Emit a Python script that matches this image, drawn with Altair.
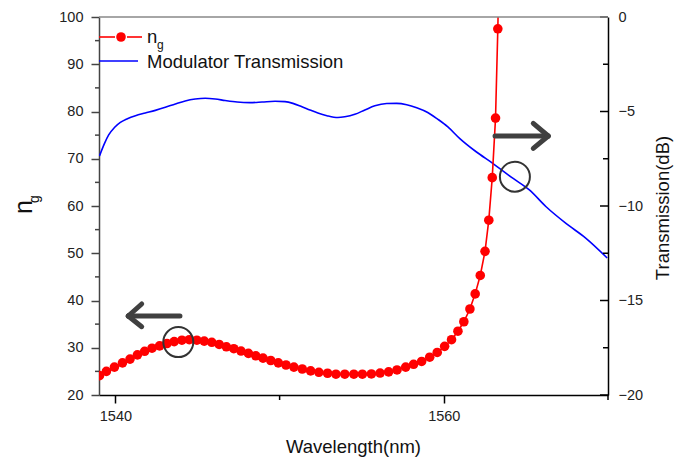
import altair as alt
import pandas as pd

# ---- group index n_g (left axis) ----
ng_wavelength = [1539.03, 1539.45, 1539.94, 1540.43, 1540.89, 1541.34, 1541.78, 1542.23,
                 1542.69, 1543.14, 1543.58, 1544.05, 1544.50, 1544.96, 1545.41, 1545.87,
                 1546.32, 1546.76, 1547.21, 1547.65, 1548.10, 1548.55, 1548.99, 1549.46,
                 1549.92, 1550.39, 1550.87, 1551.38, 1551.89, 1552.39, 1552.92, 1553.43,
                 1553.97, 1554.52, 1555.04, 1555.59, 1556.12, 1556.64, 1557.15, 1557.68,
                 1558.16, 1558.65, 1559.14, 1559.60, 1560.05, 1560.47, 1560.86, 1561.22,
                 1561.59, 1561.91, 1562.22, 1562.51, 1562.74, 1562.95, 1563.15, 1563.29,
                 1563.40]
ng_values = [24.1, 25.0, 25.9, 26.8, 27.6, 28.5, 29.25, 29.9, 30.4, 30.9, 31.3, 31.6,
             31.7, 31.6, 31.4, 31.15, 30.7, 30.2, 29.8, 29.3, 28.8, 28.3, 27.8, 27.3,
             26.8, 26.35, 25.9, 25.5, 25.1, 24.8, 24.6, 24.4, 24.4, 24.4, 24.4, 24.45,
             24.65, 24.9, 25.3, 25.9, 26.5, 27.1, 28.0, 29.0, 30.3, 31.7, 33.5, 35.5,
             38.2, 41.4, 45.3, 50.4, 57.0, 66.0, 78.6, 97.5, 118.0]

# ---- modulator transmission in dB (right axis) ----
tr_wavelength = [1539.03, 1539.33, 1539.59, 1539.94, 1540.30, 1540.73, 1541.22, 1541.82,
                 1542.43, 1543.04, 1543.65, 1544.25, 1544.86, 1545.47, 1546.08, 1546.68,
                 1547.41, 1548.20, 1548.93, 1549.72, 1550.33, 1550.81, 1551.36, 1551.85,
                 1552.33, 1552.88, 1553.55, 1553.97, 1554.58, 1555.19, 1555.80, 1556.52,
                 1557.13, 1557.74, 1558.35, 1559.02, 1559.62, 1560.23, 1560.96, 1561.97,
                 1562.98, 1564.20, 1565.21, 1566.23, 1567.44, 1568.66, 1569.95]
tr_db = [-7.35, -6.7, -6.24, -5.85, -5.58, -5.38, -5.22, -5.08, -4.94, -4.78, -4.6, -4.44,
         -4.34, -4.30, -4.34, -4.42, -4.50, -4.53, -4.50, -4.46, -4.48, -4.57, -4.75, -4.92,
         -5.08, -5.22, -5.32, -5.28, -5.15, -4.92, -4.70, -4.58, -4.57, -4.64, -4.80, -5.05,
         -5.40, -5.80, -6.42, -7.13, -7.74, -8.53, -9.15, -10.04, -10.92, -11.71, -12.75]

# ---- tick values ----
ng_major = [20, 30, 40, 50, 60, 70, 80, 90, 100]
ng_minor = [25, 35, 45, 55, 65, 75, 85, 95]
db_major = [0, -5, -10, -15, -20]
db_minor = [-2.5, -7.5, -12.5, -17.5]
wl_major = [1540, 1560]
wl_minor = [1550, 1570]

# ---- annotation circles and arrows (n_g coordinates) ----
circle_wl = [1543.83, 1564.33]
circle_ng = [31.2, 66.2]
arrow_x1 = [1543.93, 1540.78, 1540.78, 1563.12, 1566.36, 1566.36]
arrow_x2 = [1540.78, 1541.60, 1541.60, 1566.36, 1565.45, 1565.45]
arrow_y1 = [36.72, 36.72, 36.72, 74.81, 74.81, 74.81]
arrow_y2 = [36.72, 39.26, 34.45, 74.81, 77.50, 72.21]

W, H = 509, 378
FONT = "Liberation Sans"

ng_df = pd.DataFrame({"wl": ng_wavelength, "ng": ng_values})
tr_df = pd.DataFrame({"wl": tr_wavelength, "db": tr_db})
circ_df = pd.DataFrame({"wl": circle_wl, "ng": circle_ng})
arrow_df = pd.DataFrame({"x1": arrow_x1, "x2": arrow_x2, "y1": arrow_y1, "y2": arrow_y2})
one = pd.DataFrame({"k": [0]})

x_scale = alt.Scale(domain=[1539.0, 1570.0], nice=False, zero=False)
ng_scale = alt.Scale(domain=[20, 100], nice=False, zero=False)
db_scale = alt.Scale(domain=[-20, 0], nice=False, zero=False)

x_axis = alt.Axis(orient="bottom", values=wl_major, format="d", tickSize=8, tickWidth=1.5,
                  tickColor="#000", domainColor="#000", domainWidth=1.5, grid=False,
                  labelFont=FONT, labelFontSize=14.5, labelColor="#222", labelPadding=6,
                  title=None)
X = alt.X("wl:Q", scale=x_scale, axis=x_axis)

blue = alt.Chart(tr_df).mark_line(color="#0000ff", strokeWidth=1.6, clip=True,
                                  interpolate="monotone").encode(
    x=X,
    y=alt.Y("db:Q", scale=db_scale,
            axis=alt.Axis(orient="right", values=db_major, ticks=False, grid=False,
                          domainColor="#000", domainWidth=1.5, labelFont=FONT,
                          labelFontSize=14.5, labelColor="#222", labelPadding=10,
                          title=None)),
)

red_line = alt.Chart(ng_df).mark_line(color="#ff0000", strokeWidth=1.6, clip=True).encode(
    x=X,
    y=alt.Y("ng:Q", scale=ng_scale,
            axis=alt.Axis(orient="left", values=ng_major, tickSize=8, tickWidth=1.5,
                          tickColor="#444", domainColor="#444", domainWidth=1.5, grid=False,
                          labelFont=FONT, labelFontSize=14.5, labelColor="#222",
                          labelPadding=8, title=None)),
)

red_pts = alt.Chart(ng_df).mark_circle(color="#ff0000", size=92, opacity=1, clip=True).encode(
    x=X, y=alt.Y("ng:Q", scale=ng_scale, axis=None)
)

circles = alt.Chart(circ_df).mark_point(shape="circle", filled=False, size=900,
                                        stroke="#333", strokeWidth=2, opacity=1).encode(
    x=X, y=alt.Y("ng:Q", scale=ng_scale, axis=None)
)

arrows = alt.Chart(arrow_df).mark_rule(color="#404040", strokeWidth=5, strokeCap="round").encode(
    x=alt.X("x1:Q", scale=x_scale, axis=x_axis), x2="x2:Q",
    y=alt.Y("y1:Q", scale=ng_scale, axis=None), y2="y2:Q",
)

# minor / inward ticks drawn as short rules
left_minor = alt.Chart(pd.DataFrame({"v": ng_minor})).mark_rule(color="#444", strokeWidth=1.5).encode(
    y=alt.Y("v:Q", scale=ng_scale, axis=None), x=alt.value(-4), x2=alt.value(0)
)
right_major_t = alt.Chart(pd.DataFrame({"v": db_major})).mark_rule(color="#000", strokeWidth=1.5).encode(
    y=alt.Y("v:Q", scale=db_scale, axis=None), x=alt.value(W - 8), x2=alt.value(W)
)
right_minor_t = alt.Chart(pd.DataFrame({"v": db_minor})).mark_rule(color="#000", strokeWidth=1.5).encode(
    y=alt.Y("v:Q", scale=db_scale, axis=None), x=alt.value(W - 5), x2=alt.value(W)
)
bottom_minor = alt.Chart(pd.DataFrame({"wl": wl_minor})).mark_rule(color="#000", strokeWidth=1.5).encode(
    x=X, y=alt.value(H), y2=alt.value(H + 5)
)
top_line = alt.Chart(one).mark_rule(color="#888", strokeWidth=1.5).encode(
    x=alt.value(0), x2=alt.value(W), y=alt.value(0)
)

# legend
leg_red_a = alt.Chart(one).mark_rule(color="#ff0000", strokeWidth=1.6).encode(
    x=alt.value(0), x2=alt.value(16), y=alt.value(20))
leg_red_b = alt.Chart(one).mark_rule(color="#ff0000", strokeWidth=1.6).encode(
    x=alt.value(28), x2=alt.value(43), y=alt.value(20))
leg_red_dot = alt.Chart(one).mark_circle(color="#ff0000", size=92, opacity=1).encode(
    x=alt.value(22), y=alt.value(20))
leg_blue = alt.Chart(one).mark_rule(color="#0000ff", strokeWidth=1.6).encode(
    x=alt.value(0), x2=alt.value(39), y=alt.value(44))
leg_n = alt.Chart(one).mark_text(text="n", font=FONT, fontSize=18.5, align="left",
                                 baseline="alphabetic", color="#111").encode(
    x=alt.value(48), y=alt.value(26))
leg_g = alt.Chart(one).mark_text(text="g", font=FONT, fontSize=12, align="left",
                                 baseline="alphabetic", color="#111").encode(
    x=alt.value(58), y=alt.value(32))
leg_mod = alt.Chart(one).mark_text(text="Modulator Transmission", font=FONT, fontSize=18.5,
                                   align="left", baseline="alphabetic", color="#111").encode(
    x=alt.value(48), y=alt.value(51))

# axis titles
title_x = alt.Chart(one).mark_text(text="Wavelength(nm)", font=FONT, fontSize=18.5,
                                   align="center", baseline="alphabetic", color="#111").encode(
    x=alt.value(W / 2), y=alt.value(436))
title_right = alt.Chart(one).mark_text(text="Transmission(dB)", font=FONT, fontSize=18.5,
                                       align="center", baseline="middle", angle=270,
                                       color="#111").encode(
    x=alt.value(564), y=alt.value(191))
title_n = alt.Chart(one).mark_text(text="n", font=FONT, fontSize=25, align="center",
                                   baseline="alphabetic", angle=270, color="#111").encode(
    x=alt.value(-67), y=alt.value(190))
title_g = alt.Chart(one).mark_text(text="g", font=FONT, fontSize=14, align="center",
                                   baseline="alphabetic", angle=270, color="#111").encode(
    x=alt.value(-60), y=alt.value(182))

chart = alt.layer(
    blue, red_line, red_pts, circles, arrows,
    left_minor, right_major_t, right_minor_t, bottom_minor, top_line,
    leg_red_a, leg_red_b, leg_red_dot, leg_blue, leg_n, leg_g, leg_mod,
    title_x, title_right, title_n, title_g,
).resolve_scale(y="independent").properties(
    width=W, height=H,
    padding={"left": 99, "top": 17, "right": 73, "bottom": 62},
    autosize=alt.AutoSizeParams(type="none"),
    background="white",
).configure_view(stroke=None)

chart.save("out.html", embed_options={"renderer": "svg", "actions": False})
